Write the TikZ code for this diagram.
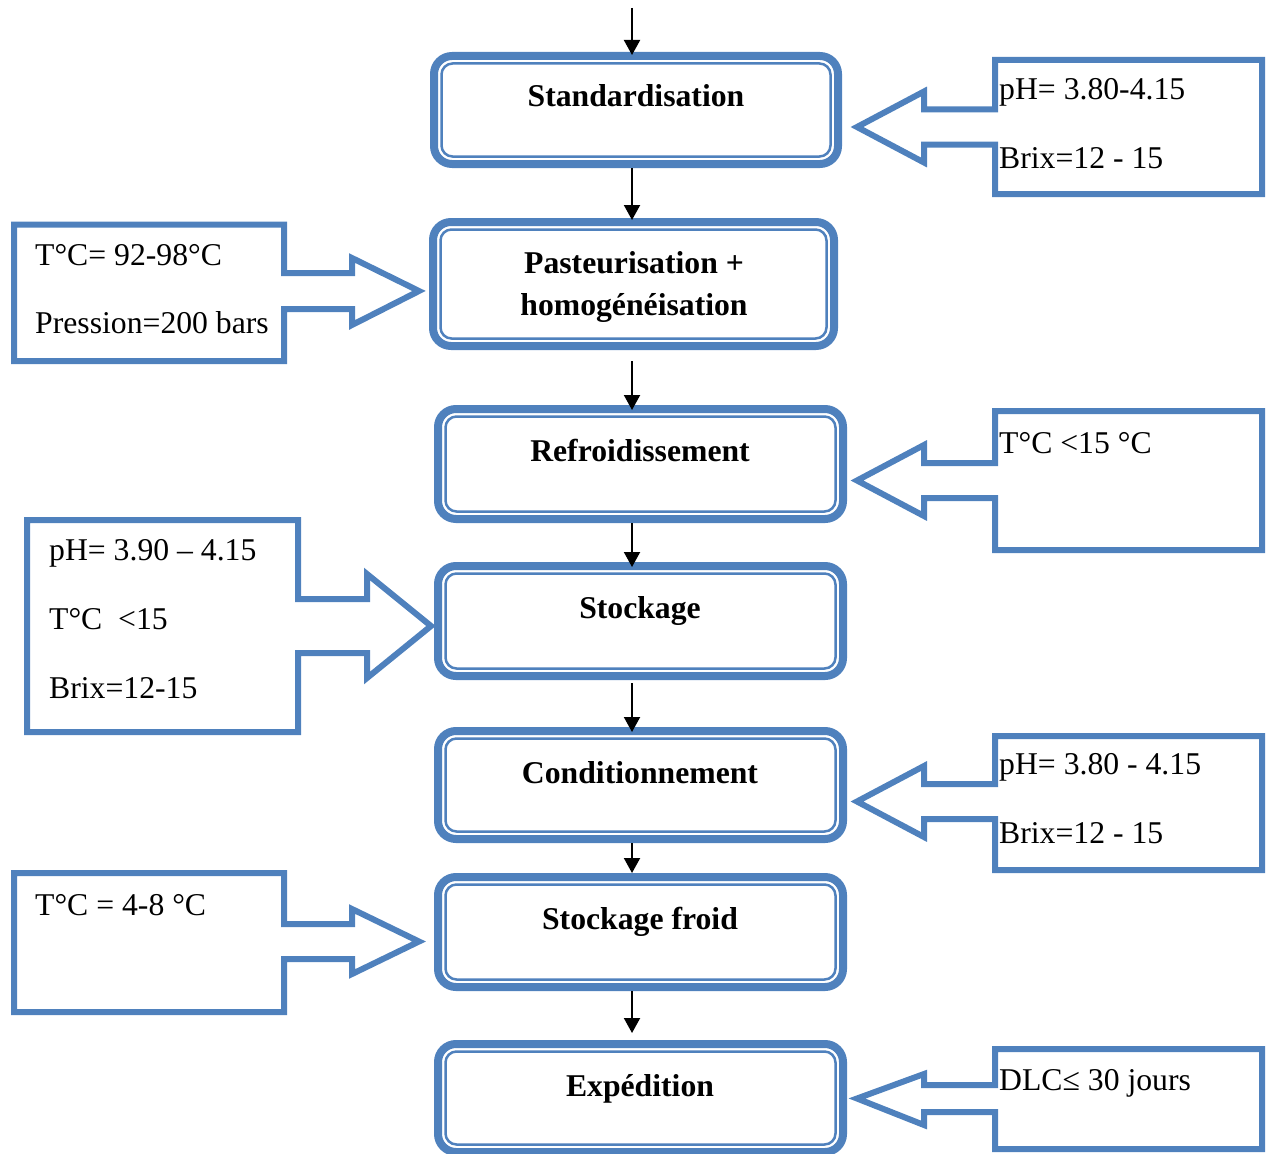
\documentclass[tikz,border=0pt]{standalone}
\usepackage{fontspec}
\setmainfont{Liberation Serif}
\usetikzlibrary{arrows.meta,calc}
\definecolor{wordblue}{RGB}{79,129,189}
\begin{document}
\begin{tikzpicture}[x=1pt,y=-1pt,
  stepbox/.style={draw=wordblue, line width=8pt, rounded corners=18pt,
    inner sep=0pt, fill=white},
  innerline/.style={draw=wordblue, line width=2.5pt, rounded corners=11pt},
  steptext/.style={inner sep=0pt, anchor=base, font=\fontsize{31.7}{38}\selectfont\bfseries},
  notetext/.style={inner sep=0pt, anchor=base west, font=\fontsize{31.7}{38}\selectfont},
  callout/.style={draw=wordblue, line width=6pt, line join=miter, miter limit=10},
  flow/.style={draw=black, line width=2pt, -{Triangle[width=16pt,length=15pt]}}
]
\useasboundingbox (0,0) rectangle (1268,1153);

% process steps
\node[stepbox, minimum width=404pt, minimum height=108pt] (b1) at (636,110) {};
\node[stepbox, minimum width=401pt, minimum height=124pt] (b2) at (633.5,284) {};
\node[stepbox, minimum width=405pt, minimum height=110pt] (b3) at (640.5,464) {};
\node[stepbox, minimum width=405pt, minimum height=110pt] (b4) at (640.5,621) {};
\node[stepbox, minimum width=405pt, minimum height=108pt] (b5) at (640.5,785) {};
\node[stepbox, minimum width=405pt, minimum height=110pt] (b6) at (640.5,932) {};
\node[stepbox, minimum width=405pt, minimum height=108pt] (b7) at (640.5,1098) {};

% thin inner outline of every step
\foreach \b in {b1,b2,b3,b4,b5,b6,b7}
  \draw[innerline] ($(\b.north west)+(11.5,11.5)$) rectangle ($(\b.south east)+(-11.5,-11.5)$);

% step titles
\node[steptext] (t1) at (636,107) {Standardisation};
\node[steptext] (t2a) at (634,273) {Pasteurisation +};
\node[steptext] (t2b) at (634,315) {homogénéisation};
\node[steptext] (t3) at (640,461) {Refroidissement};
\node[steptext] (t4) at (640,618) {Stockage};
\node[steptext] (t5) at (640,783) {Conditionnement};
\node[steptext] (t6) at (640,929) {Stockage froid};
\node[steptext] (t7) at (640,1096) {Expédition};

% flow arrows
\coordinate (start) at (632,8);
\draw[flow, shorten >=-3pt] (start) -- (b1.north -| start);
\draw[flow, shorten >=-2pt] (b1.south -| start) -- (b2.north -| start);
\draw[flow, shorten <=11pt, shorten >=-5pt] (b2.south -| start) -- (b3.north -| start);
\draw[flow, shorten >=-5pt] (b3.south -| start) -- (b4.north -| start);
\draw[flow, shorten <=3pt, shorten >=-5pt] (b4.south -| start) -- (b5.north -| start);
\draw[flow] (b5.south -| start) -- (b6.north -| start);
\draw[flow, shorten >=7pt] (b6.south -| start) -- (b7.north -| start);

% right-hand arrow callouts
\draw[callout] (995,60) -- (1262,60) -- (1262,194) -- (995,194) -- (995,144.5)
  -- (924,144.5) -- (924,162.5) -- (857,127) -- (924,91.5) -- (924,109.5) -- (995,109.5) -- cycle;
\draw[callout] (995,411) -- (1262,411) -- (1262,550) -- (995,550) -- (995,498)
  -- (924,498) -- (924,516) -- (857,480.5) -- (924,445) -- (924,463) -- (995,463) -- cycle;
\draw[callout] (995,736) -- (1262,736) -- (1262,870) -- (995,870) -- (995,819)
  -- (924,819) -- (924,837) -- (857,801.5) -- (924,766) -- (924,784) -- (995,784) -- cycle;
\draw[callout] (995,1049) -- (1262,1049) -- (1262,1149) -- (995,1149) -- (995,1112)
  -- (924,1112) -- (924,1125) -- (857,1098.5) -- (924,1074) -- (924,1085) -- (995,1085) -- cycle;

% left-hand arrow callouts
\draw[callout] (14,224.5) -- (284,224.5) -- (284,273) -- (352,273) -- (352,258)
  -- (419,291) -- (352,325) -- (352,309) -- (284,309) -- (284,361) -- (14,361) -- cycle;
\draw[callout] (27,520) -- (298,520) -- (298,599) -- (367,599) -- (367,574)
  -- (431,626) -- (367,678) -- (367,653) -- (298,653) -- (298,732) -- (27,732) -- cycle;
\draw[callout] (14,873) -- (284,873) -- (284,924) -- (352,924) -- (352,909)
  -- (419,941.5) -- (352,974) -- (352,959) -- (284,959) -- (284,1012) -- (14,1012) -- cycle;

% callout texts
\node[notetext] (n1a) at (999,100) {pH= 3.80-4.15};
\node[notetext] (n1b) at (999,168) {Brix=12 - 15};
\node[notetext] (n2a) at (35,265) {T°C= 92-98°C};
\node[notetext] (n2b) at (35,333) {Pression=200 bars};
\node[notetext] (n3) at (999,453) {T°C <15 °C};
\node[notetext] (n4a) at (49,560) {pH= 3.90 – 4.15};
\node[notetext] (n4b) at (49,629) {T°C\ \ <15};
\node[notetext] (n4c) at (49,698) {Brix=12-15};
\node[notetext] (n5a) at (999,774) {pH= 3.80 - 4.15};
\node[notetext] (n5b) at (999,843) {Brix=12 - 15};
\node[notetext] (n6) at (35,915) {T°C = 4-8 °C};
\node[notetext] (n7) at (999,1090) {DLC≤ 30 jours};
\end{tikzpicture}
\end{document}
